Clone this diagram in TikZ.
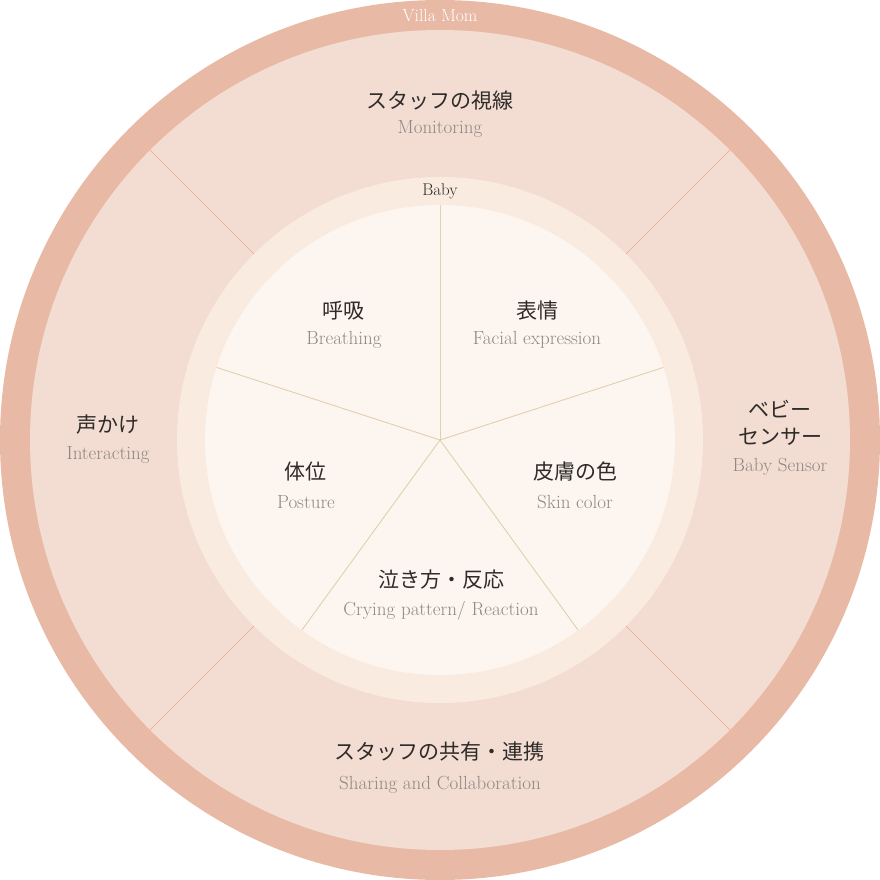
\documentclass[tikz,border=0pt]{standalone}
\usepackage{fontspec}
\newfontfamily\jpfont{Noto Sans CJK JP}

\definecolor{rimcol}{HTML}{E8B9A5}
\definecolor{bandcol}{HTML}{F3DDD3}
\definecolor{babycol}{HTML}{F9EBE0}
\definecolor{corecol}{HTML}{FDF6F0}
\definecolor{spokecol}{HTML}{E2CFAE}
\definecolor{cutcol}{HTML}{EAAA92}
\definecolor{jptext}{HTML}{2E2B29}
\definecolor{entext}{HTML}{8E8782}

\begin{document}
\begin{tikzpicture}[x=1pt,y=1pt,
    jp/.style={font=\jpfont\fontsize{21}{27}\selectfont,text=jptext,inner sep=0pt},
    en/.style={font=\fontsize{19}{22}\selectfont,text=entext,inner sep=0pt},
    spoke/.style={spokecol,line width=0.9pt},
    cut/.style={cutcol,line width=0.6pt}]
            \useasboundingbox (-440,-440) rectangle (440,440);

            \fill[rimcol] (0,0) circle (440);
            \fill[bandcol] (0,0) circle (410);
            \foreach \a in {45,135,225,315}
                \draw[cut] (\a:262) -- (\a:410);
            \fill[babycol] (0,0) circle (263);
            \fill[corecol] (0,0) circle (235);
            \foreach \a in {90,18,-54,-126,162}
                \draw[spoke] (0,0) -- (\a:235);

            \node[en,text=white,font=\fontsize{17.5}{20}\selectfont] (villa) at (0,424) {Villa Mom};
            \node[en,text=jptext,font=\fontsize{17}{20}\selectfont] (baby) at (0,249) {Baby};

            \node[jp] (watchjp) at (0,339) {スタッフの視線};
            \node[en] (watchen) at (0,311) {Monitoring};
            \node[jp] (talkjp) at (-332,15) {声かけ};
            \node[en] (talken) at (-332,-15) {Interacting};
            \node[jp,align=center] (sensorjp) at (340,17) {ベビー\\センサー};
            \node[en] (sensoren) at (340,-27) {Baby Sensor};
            \node[jp] (sharejp) at (0,-312) {スタッフの共有・連携};
            \node[en] (shareen) at (0,-345) {Sharing and Collaboration};

            \node[jp] (breathjp) at (-96,129) {呼吸};
            \node[en] (breathen) at (-96,100) {Breathing};
            \node[jp] (facejp) at (97,129) {表情};
            \node[en] (faceen) at (97,100) {Facial expression};
            \node[jp] (posejp) at (-134,-32) {体位};
            \node[en] (poseen) at (-134,-62) {Posture};
            \node[jp] (skinjp) at (135,-32) {皮膚の色};
            \node[en] (skinen) at (135,-62) {Skin color};
            \node[jp] (cryjp) at (1,-140) {泣き方・反応};
            \node[en] (cryen) at (1,-171) {Crying pattern/ Reaction};
\end{tikzpicture}
\end{document}
